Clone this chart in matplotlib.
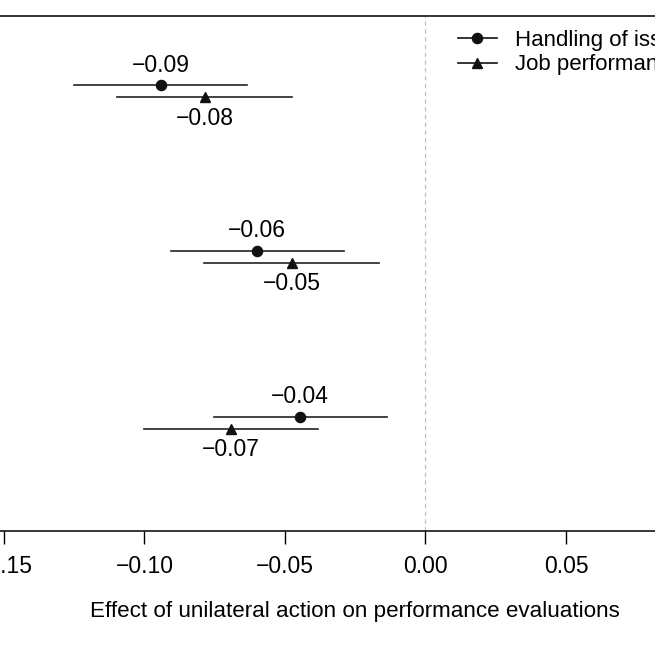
import matplotlib.pyplot as plt
from matplotlib.lines import Line2D

plt.rcParams['font.family'] = ['Liberation Sans', 'DejaVu Sans']

# estimates (top group first)
groups = [3, 2, 1]
issue_est = [-0.0941, -0.0599, -0.0447]
issue_lo = [-0.1251, -0.0906, -0.0752]
issue_hi = [-0.0635, -0.0289, -0.0138]
job_est = [-0.0785, -0.0475, -0.0692]
job_lo = [-0.1098, -0.0787, -0.1001]
job_hi = [-0.0475, -0.0164, -0.0381]
series_names = ['Handling of issues', 'Job performance']
xticks = [-0.15, -0.10, -0.05, 0.00, 0.05, 0.10]

off = 0.036

def fmt(v):
    return f'{v:.2f}'.replace('-', '\u2212')

fig = plt.figure(figsize=(6.55, 6.55), dpi=100)
ax = fig.add_axes([-0.0368, 0.1893, 1.1583, 0.7863])

ax.axvline(0, color='#bbbbbb', lw=0.8, ls=(0, (4, 3)), zorder=0)

for g, e, lo, hi in zip(groups, issue_est, issue_lo, issue_hi):
    y = g + off
    ax.plot([lo, hi], [y, y], color='#222222', lw=1.2)
    ax.plot(e, y, 'o', color='#111111', ms=7.3)
    ax.annotate(fmt(e), (e, y), xytext=(0, 14.4), textcoords='offset points',
                ha='center', va='center', fontsize=16.5)

for g, e, lo, hi in zip(groups, job_est, job_lo, job_hi):
    y = g - off
    ax.plot([lo, hi], [y, y], color='#222222', lw=1.2)
    ax.plot(e, y, '^', color='#111111', ms=7.8)
    ax.annotate(fmt(e), (e, y), xytext=(0, -15.1), textcoords='offset points',
                ha='center', va='center', fontsize=16.5)

ax.set_xlim(-0.16, 0.11)
ax.set_ylim(0.346, 3.453)
ax.set_xticks(xticks)
ax.set_xticklabels([fmt(t) for t in xticks])
ax.set_yticks([])
ax.tick_params(axis='x', direction='out', length=9.5, width=1, labelsize=16.5, pad=7.5)
for s in ['left', 'right']:
    ax.spines[s].set_visible(False)
for s in ['top', 'bottom']:
    ax.spines[s].set_linewidth(1.1)
ax.set_xlabel('Effect of unilateral action on performance evaluations', fontsize=16.1, labelpad=16.5)

handles = [Line2D([], [], color='#111111', marker='o', ms=7.3, lw=1.2),
           Line2D([], [], color='#111111', marker='^', ms=7.8, lw=1.2)]
fig.legend(handles, series_names, loc='upper left', bbox_to_anchor=(458 / 655, 1 - 30 / 655),
           frameon=False, fontsize=16, handlelength=1.75, handletextpad=0.8,
           labelspacing=0.15, borderpad=0, borderaxespad=0)

fig.savefig('out.png', dpi=100)
